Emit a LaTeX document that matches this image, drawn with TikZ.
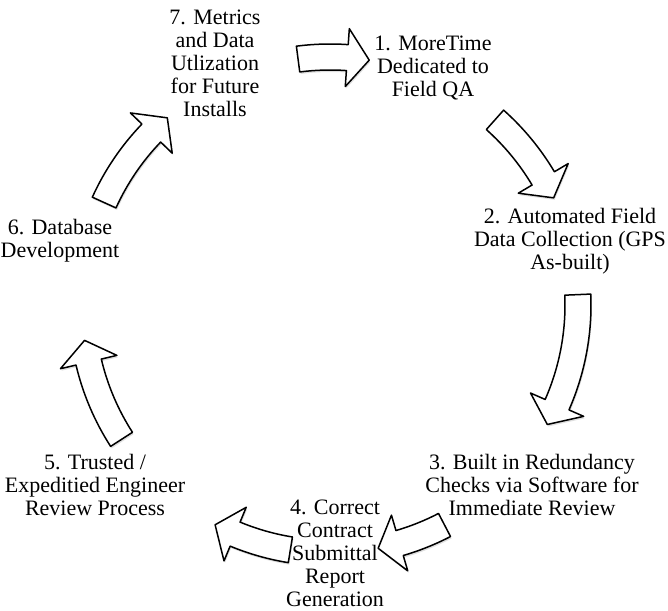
\documentclass[tikz,border=0pt]{standalone}
\usepackage{fontspec}
\setmainfont{Liberation Serif}
\usetikzlibrary{shadows}

\tikzstyle{stage} = [align=center, inner sep=0pt, font={\fontsize{22}{23}\selectfont}]
\tikzstyle{cyc} = [draw=black, fill=white, line width=1.5pt, line join=round, drop shadow={opacity=0.25, shadow xshift=1pt, shadow yshift=-2pt}]

% block arrow on the ring: name, tail angle, tip angle
\newcommand{\cycarrow}[3]{%
	\draw[cyc] ([shift={(ctr)}]#2:261) arc[start angle=#2, end angle=#3+5.1, radius=261]
		-- ([shift={(ctr)}]#3+5.1:277) -- ([shift={(ctr)}]#3:248) coordinate (#1)
		-- ([shift={(ctr)}]#3+5.1:219) -- ([shift={(ctr)}]#3+5.1:235)
		arc[start angle=#3+5.1, end angle=#2, radius=235] -- cycle;}

\begin{document}
\begin{tikzpicture}[x=1pt, y=1pt]
	\useasboundingbox (0,0) rectangle (668,-610);
	\coordinate (ctr) at (330,-305);

% Stages
	\node[stage] at (433,-68) (s1) {1. MoreTime\\Dedicated to\\Field QA};
	\node[stage] at (570,-241) (s2) {2. Automated Field\\Data Collection (GPS\\As-built)};
	\node[stage] at (532,-485) (s3) {3. Built in Redundancy\\Checks via Software for\\Immediate Review};
	\node[stage] at (335,-553) (s4) {4. Correct\\Contract\\Submittal\\Report\\Generation};
	\node[stage] at (95,-485) (s5) {5. Trusted /\\Expeditied Engineer\\Review Process};
	\node[stage] at (60,-241) (s6) {6. Database\\Development};
	\node[stage] at (215,-63) (s7) {7. Metrics\\and Data\\Utlization\\for Future\\Installs};

% Ring arrows
	\cycarrow{a71}{97.4}{80.9}
	\cycarrow{a12}{48.3}{25.6}
	\cycarrow{a23}{2.4}{-28.8}
	\cycarrow{a34}{-62.5}{-78.8}
	\cycarrow{a45}{-99.2}{-117.6}
	\cycarrow{a56}{-147.2}{-171.8}
	\cycarrow{a67}{155.6}{131}

\end{tikzpicture}
\end{document}
